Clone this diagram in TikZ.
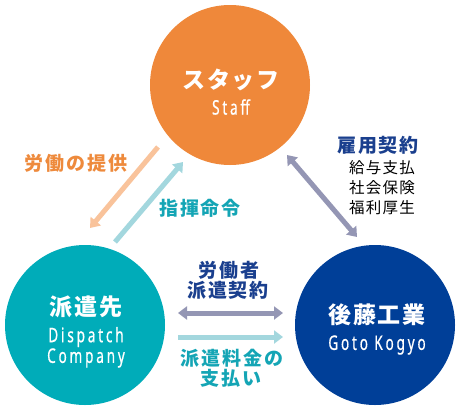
\documentclass[tikz,border=0pt]{standalone}
\usepackage{fontspec}
\usetikzlibrary{arrows.meta}
\newfontfamily\jpt[LetterSpace=8]{Noto Sans CJK JP}
\newfontfamily\jpl[LetterSpace=10]{Noto Sans CJK JP}
\newfontfamily\jps[LetterSpace=8]{Noto Sans CJK JP}
\newfontfamily\eng[FakeStretch=0.68,LetterSpace=14,FakeBold=0.6]{Noto Sans}
\definecolor{corange}{HTML}{EF883A}
\definecolor{cteal}{HTML}{00ACB9}
\definecolor{cnavy}{HTML}{003F98}
\definecolor{aorange}{HTML}{F9C39B}
\definecolor{agrey}{HTML}{9496B4}
\definecolor{acyan}{HTML}{A3D7DE}
\definecolor{lorange}{HTML}{EE8A3C}
\definecolor{lteal}{HTML}{14A5B5}
\definecolor{lnavy}{HTML}{1A3F8E}
\tikzset{
  bubble/.style={circle,minimum size=160pt,inner sep=0pt,draw=none},
  title/.style={text=white,font=\jpt\bfseries\fontsize{23pt}{26pt}\selectfont,inner sep=0pt},
  sub/.style={text=white,font=\eng\fontsize{20pt}{22pt}\selectfont,inner sep=0pt},
  lab/.style={font=\jpl\bfseries\fontsize{19pt}{22pt}\selectfont,inner sep=0pt},
  small/.style={font=\jps\fontsize{15.5pt}{18pt}\selectfont,inner sep=0pt,text=black},
  arr/.style={line width=5pt,-{Triangle[length=9pt,width=13pt]}},
  darr/.style={line width=5pt,{Triangle[length=9pt,width=13pt]}-{Triangle[length=9pt,width=13pt]}}
}
\begin{document}
\begin{tikzpicture}[x=1pt,y=-1pt]
\useasboundingbox (0,0) rectangle (460,410);
\fill[white] (0,0) rectangle (460,410);
% circles
\node[bubble,fill=corange] (staff) at (230,85) {};
\node[bubble,fill=cteal] (disp) at (85,325) {};
\node[bubble,fill=cnavy] (goto) at (375,325) {};
% circle texts
\node[title] (t1) at (231,80) {スタッフ};
\node[sub] (s1) at (231,107) {Staff};
\node[title] (t2) at (86,307) {派遣先};
\node[sub] (s2a) at (86,337) {Dispatch};
\node[sub] (s2b) at (86,358) {Company};
\node[title] (t3) at (377,315) {後藤工業};
\node[sub] (s3) at (377,345) {Goto Kogyo};
% arrow endpoints
\coordinate (a1s) at (158,147); \coordinate (a1e) at (90,228);
\coordinate (a2s) at (115,242); \coordinate (a2e) at (183,162);
\coordinate (a3s) at (287,155); \coordinate (a3e) at (357,237);
\coordinate (a4s) at (178,313); \coordinate (a4e) at (283,313);
\coordinate (a5s) at (178,337); \coordinate (a5e) at (283,337);
\draw[arr,aorange] (a1s) -- (a1e);
\draw[arr,acyan] (a2s) -- (a2e);
\draw[darr,agrey] (a3s) -- (a3e);
\draw[darr,agrey] (a4s) -- (a4e);
\draw[arr,acyan] (a5s) -- (a5e);
% labels
\node[lab,text=lorange] (l1) at (76,163) {労働の提供};
\node[lab,text=lteal] (l2) at (200,208) {指揮命令};
\node[lab,text=lnavy] (l3) at (378,145) {雇用契約};
\node[small] (l3a) at (382,168) {給与支払};
\node[small] (l3b) at (382,188) {社会保険};
\node[small] (l3c) at (382,208) {福利厚生};
\node[lab,text=lnavy] (l4a) at (229,270) {労働者};
\node[lab,text=lnavy] (l4b) at (228,290) {派遣契約};
\node[lab,text=lteal] (l5a) at (232,358) {派遣料金の};
\node[lab,text=lteal] (l5b) at (231,378) {支払い};
\end{tikzpicture}
\end{document}
